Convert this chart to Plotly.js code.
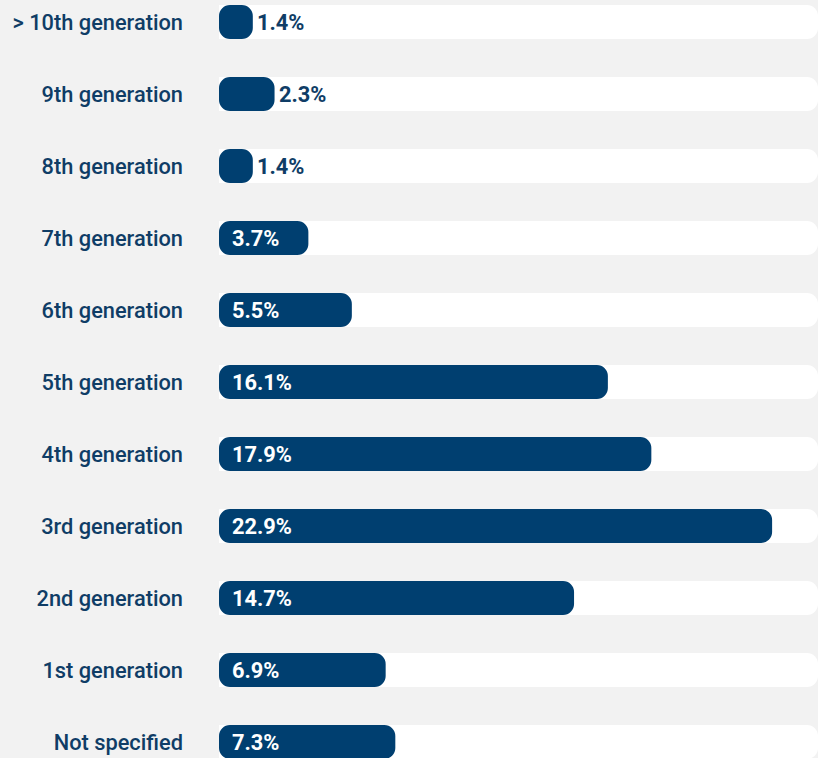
<!DOCTYPE html>
<html>
<head>
<meta charset="utf-8">
<script src="https://cdn.plot.ly/plotly-3.0.1.min.js"></script>
<style>
  html, body { margin: 0; padding: 0; background: #f2f2f2; }
  #chart { width: 818px; height: 758px; }
</style>
</head>
<body>
<div id="chart"></div>
<script>
// Data (bottom to top as drawn by Plotly)
const categories = [
  "Not specified", "1st generation", "2nd generation", "3rd generation",
  "4th generation", "5th generation", "6th generation", "7th generation",
  "8th generation", "9th generation", "> 10th generation"
];
const values = [7.3, 6.9, 14.7, 22.9, 17.9, 16.1, 5.5, 3.7, 1.4, 2.3, 1.4];
const labels = ["7.3%", "6.9%", "14.7%", "22.9%", "17.9%", "16.1%", "5.5%", "3.7%", "1.4%", "2.3%", "1.4%"];
const trackMax = 24.8;

const dark = "#003f70";
const textBlue = "#0f3d66";
const R = 11;

const track = {
  type: "bar", orientation: "h",
  y: categories, x: categories.map(() => trackMax),
  width: 0.47, xaxis: "x", yaxis: "y",
  marker: { color: "#ffffff", cornerradius: R, line: { width: 0 } },
  hoverinfo: "skip", showlegend: false
};
// explicit base so both ends of each bar get rounded corners
const bars = {
  type: "bar", orientation: "h",
  y: categories, base: values.map(() => 0), x: values,
  width: 0.47, xaxis: "x2", yaxis: "y",
  marker: { color: dark, cornerradius: R, line: { width: 0 } },
  hoverinfo: "skip", showlegend: false
};

const annotations = values.map((v, i) => {
  const outside = v < 3;
  return {
    x: outside ? v : 0,
    y: categories[i],
    xref: "x", yref: "y",
    text: "<b>" + labels[i] + "</b>",
    showarrow: false,
    xanchor: "left", yanchor: "middle",
    xshift: outside ? 2 : 11,
    yshift: 0,
    font: { family: "Roboto, sans-serif", size: 21.8, color: outside ? textBlue : "#ffffff" }
  };
});

const hiddenX = {
  range: [0, trackMax], visible: false, fixedrange: true,
  showgrid: false, zeroline: false
};

const layout = {
  width: 818, height: 758,
  margin: { l: 219, r: 0, t: 0, b: 0, pad: 0 },
  paper_bgcolor: "#f2f2f2",
  plot_bgcolor: "#f2f2f2",
  barmode: "overlay",
  showlegend: false,
  xaxis: Object.assign({}, hiddenX),
  xaxis2: Object.assign({ overlaying: "x" }, hiddenX),
  yaxis: {
    type: "category",
    range: [-0.2222, 10.3056],
    showgrid: false, zeroline: false, showline: false,
    ticks: "", ticklabelstandoff: 35,
    tickfont: { family: "Roboto, sans-serif", size: 21.8, color: textBlue, weight: 500 },
    fixedrange: true
  },
  annotations: annotations
};

Plotly.newPlot("chart", [track, bars], layout, { displayModeBar: false, staticPlot: true });
</script>
</body>
</html>
